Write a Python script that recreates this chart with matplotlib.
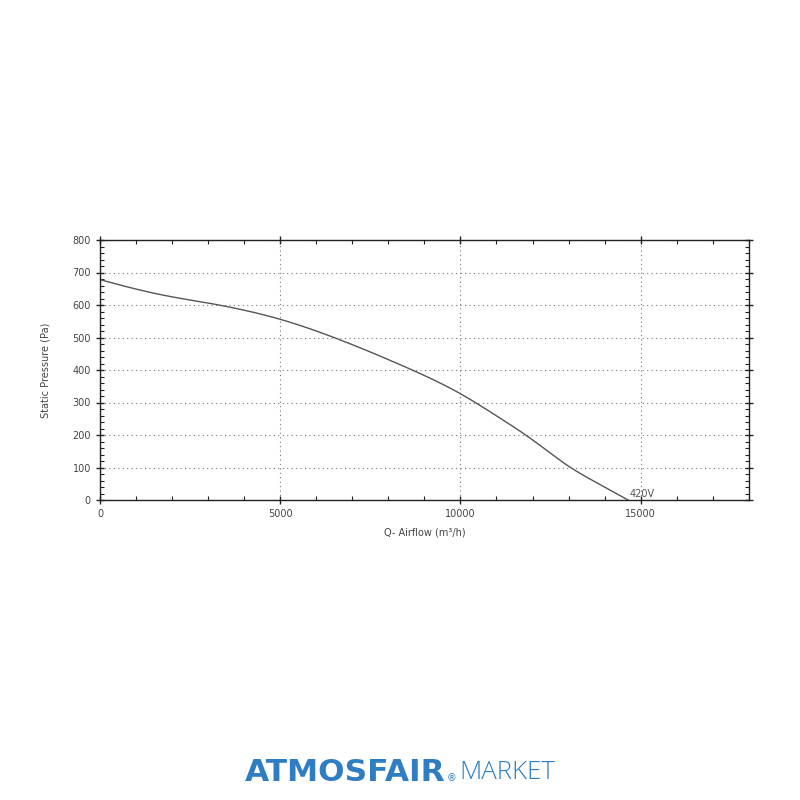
import matplotlib
matplotlib.use("Agg")
import matplotlib.pyplot as plt
import numpy as np
from matplotlib.ticker import MultipleLocator

airflow = [0, 1000, 2000, 3000, 4000, 5000, 6000, 7000, 8000, 9000, 10000, 11000, 12000, 13000, 14000, 14650]
pressure = [678, 649, 625, 606, 584, 556, 520, 478, 432, 383, 327, 259, 185, 104, 40, 0]
curve_label = "420V"
x_label = "Q- Airflow (m³/h)"
y_label = "Static Pressure (Pa)"

fig = plt.figure(figsize=(8, 8), dpi=100)
ax = fig.add_axes([0.125, 0.375, 0.811, 0.325])

# natural cubic spline through the read points
xs = np.array(airflow, float)
ys = np.array(pressure, float)
n = len(xs)
h = np.diff(xs)
A = np.zeros((n, n)); b = np.zeros(n)
A[0, 0] = 1; A[-1, -1] = 1
for i in range(1, n - 1):
    A[i, i-1] = h[i-1]; A[i, i] = 2*(h[i-1] + h[i]); A[i, i+1] = h[i]
    b[i] = 6*((ys[i+1]-ys[i])/h[i] - (ys[i]-ys[i-1])/h[i-1])
M = np.linalg.solve(A, b)
xf = np.linspace(xs[0], xs[-1], 500)
idx = np.clip(np.searchsorted(xs, xf) - 1, 0, n - 2)
x0 = xs[idx]; x1 = xs[idx+1]; hh = h[idx]
yf = (M[idx]*(x1-xf)**3/(6*hh) + M[idx+1]*(xf-x0)**3/(6*hh)
      + (ys[idx]/hh - M[idx]*hh/6)*(x1-xf) + (ys[idx+1]/hh - M[idx+1]*hh/6)*(xf-x0))

ax.plot(xf, yf, color="#555555", lw=1.0)
ax.text(airflow[-1] + 30, 4, curve_label, fontsize=7, color="#555555", ha="left", va="bottom")

ax.set_xlim(0, 18000)
ax.set_ylim(0, 800)
ax.xaxis.set_major_locator(MultipleLocator(5000))
ax.xaxis.set_minor_locator(MultipleLocator(1000))
ax.yaxis.set_major_locator(MultipleLocator(100))
ax.yaxis.set_minor_locator(MultipleLocator(20))
ax.tick_params(which="major", direction="inout", length=6, width=1, labelsize=7, colors="#222222",
               top=True, right=True, labelcolor="#444444")
ax.tick_params(which="minor", direction="in", length=3, width=0.8, top=True, right=True, colors="#222222")
ax.grid(True, which="major", linestyle=(0, (1, 3)), color="#777777", lw=0.8)
for s in ax.spines.values():
    s.set_linewidth(1.0)
    s.set_color("#222222")
ax.set_xlabel(x_label, fontsize=7, color="#444444", labelpad=6)
ax.set_ylabel(y_label, fontsize=7, color="#444444", labelpad=16)

blue = "#2f7ec3"
fig.text(0.306, 0.034, "ATMOSFAIR", fontsize=22.5, fontweight="bold", color=blue, ha="left", va="center",
         family="DejaVu Sans")
fig.text(0.558, 0.027, "®", fontsize=7, color=blue, ha="left", va="center", family="DejaVu Sans")
fig.text(0.574, 0.034, "MARKET", fontsize=18.5, fontweight="light", color=blue, ha="left", va="center",
         family="Open Sans")

fig.savefig("out.png", dpi=100, facecolor="white")
